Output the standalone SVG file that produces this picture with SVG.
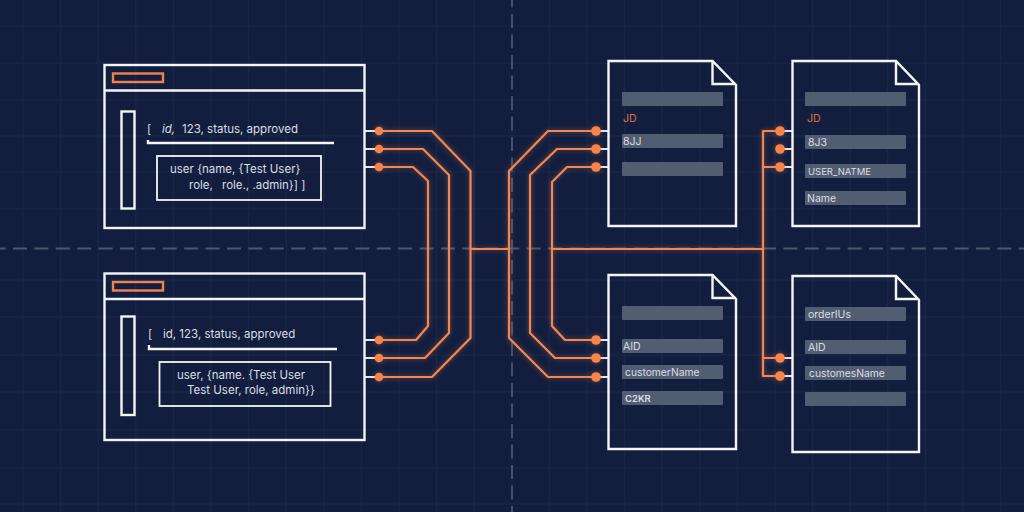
<svg xmlns="http://www.w3.org/2000/svg" width="1024" height="512" viewBox="0 0 1024 512">
<defs>
<style>
.grid{stroke:#1a2646;stroke-width:1.5;fill:none}
.dash{stroke:#4d576d;stroke-width:1.8;fill:none;stroke-dasharray:14 7.4}
.w{fill:none;stroke:#f3f5f9;stroke-width:2.4;stroke-linejoin:miter}
.o{fill:none;stroke:#f5864f;stroke-width:2.2;stroke-linejoin:round}
.hdr{fill:none;stroke:#ee8350;stroke-width:2.4}
.bar{fill:#535d71}
.stub{stroke:#e9e4e2;stroke-width:2.2;fill:none}
.dot{fill:#f98448}
text{font-family:"Inter","Liberation Sans",sans-serif;fill:#dadee7}
.t{font-size:11.500px}
.s{font-size:10.500px}
.c{font-size:10.300px}
.n{font-size:9.500px}
.or{fill:#d9753f;font-size:10.500px}
</style>
<filter id="glow" filterUnits="userSpaceOnUse" x="0" y="0" width="1024" height="512">
<feGaussianBlur stdDeviation="2.500" result="b"/>
<feComponentTransfer in="b" result="soft"><feFuncA type="linear" slope="0.450"/></feComponentTransfer>
<feMerge><feMergeNode in="soft"/><feMergeNode in="SourceGraphic"/></feMerge>
</filter>
</defs>
<rect width="1024" height="512" fill="#131e3e"/>
<g id="background-grid">
<path class="grid" d="M23 0V512M60.600 0V512M98.200 0V512M135.800 0V512M173.400 0V512M211 0V512M248.600 0V512M286.200 0V512M323.800 0V512M361.400 0V512M399 0V512M436.600 0V512M474.200 0V512M549.400 0V512M587 0V512M624.600 0V512M662.200 0V512M699.800 0V512M737.400 0V512M775 0V512M812.600 0V512M850.200 0V512M887.800 0V512M925.400 0V512M963 0V512M1000.600 0V512"/>
<path class="grid" d="M0 26H1024M0 63H1024M0 100H1024M0 136H1024M0 172H1024M0 209H1024M0 280H1024M0 317H1024M0 355H1024M0 392H1024M0 430H1024M0 468H1024M0 504H1024"/>
<path class="dash" stroke-dashoffset="8.400" d="M0 248.500H1024"/>
<path class="dash" style="stroke-dasharray:14 6.500" stroke-dashoffset="6.500" d="M512 0V512"/>
</g>
<g id="connectors">
<path class="stub" d="M365 131H379M365 149H379M365 167H379M365 340H379M365 358H379M365 377H379M596 131H608M596 149H608M596 167H608M596 340H608M596 358H608M596 377H608M780 131H792M780 149H792M780 167H792M780 358H792M780 376H792"/>
<g filter="url(#glow)">
<path class="o" d="M379 131H432L470.500 171V338L432 377H379"/>
<path class="o" d="M379 149H423L449 175V333L425 358H379"/>
<path class="o" d="M379 167H413L428 181V326L416 340H379"/>
<path class="o" d="M470.500 249H509"/>
<path class="o" d="M596 131H548L509 171V338L548 377H596"/>
<path class="o" d="M596 149H557L530 175V333L555 358H596"/>
<path class="o" d="M596 167H567L552 182V326L565 340H596"/>
<path class="o" d="M552 249H763"/>
<path class="o" d="M780 131H763V376H780M763 167H780M763 358H780"/>
<g class="dot">
<circle cx="379" cy="131" r="4.300"/><circle cx="379" cy="149" r="4.300"/><circle cx="379" cy="167" r="4.300"/>
<circle cx="379" cy="340" r="4.300"/><circle cx="379" cy="358" r="4.300"/><circle cx="379" cy="377" r="4.300"/>
<circle cx="596" cy="131" r="4.800"/><circle cx="596" cy="149" r="4.800"/><circle cx="596" cy="167" r="4.800"/>
<circle cx="596" cy="340" r="4.800"/><circle cx="596" cy="358" r="4.800"/><circle cx="596" cy="377" r="4.800"/>
<circle cx="780" cy="131" r="4.800"/><circle cx="780" cy="149" r="4.800"/><circle cx="780" cy="167" r="4.800"/>
<circle cx="780" cy="358" r="4.800"/><circle cx="780" cy="376" r="4.800"/>
</g>
</g>
</g>
<g id="window-1">
<rect class="w" x="104.500" y="65" width="260" height="163"/>
<path class="w" d="M104.500 90.500H364.500"/>
<rect class="hdr" x="113" y="73.500" width="50" height="8.500"/>
<rect class="w" x="121.500" y="111.500" width="13" height="97"/>
<text class="t" y="133"><tspan x="147">[</tspan><tspan x="162" font-style="italic">id,</tspan><tspan x="182">123, status, approved</tspan></text>
<path class="w" d="M148 140V143H334"/>
<rect class="w" x="157" y="156" width="164" height="44" style="stroke-width:1.800"/>
<text class="t" x="170" y="173">user {name, {Test User}</text>
<text class="t" x="189" y="188.500">role,<tspan x="222">role., .admin}] ]</tspan></text>
</g>
<g id="window-2">
<rect class="w" x="104.500" y="273.500" width="260" height="166.500"/>
<path class="w" d="M104.500 299H364.500"/>
<rect class="hdr" x="113" y="282" width="50" height="8.500"/>
<rect class="w" x="121.500" y="316.500" width="13" height="98.500"/>
<text class="t" y="338"><tspan x="148">[</tspan><tspan x="163">id, 123, status, approved</tspan></text>
<path class="w" d="M149 345V349H337"/>
<rect class="w" x="159.500" y="362" width="171" height="44" style="stroke-width:1.800"/>
<text class="t" x="177" y="379">user, {name. {Test User</text>
<text class="t" x="187" y="394">Test User, role, admin}}</text>
</g>
<g id="doc-1">
<path class="w" d="M608.500 61H712.500L736 85V226H608.500ZM712.500 61V84H736"/>
<rect class="bar" x="622" y="92" width="101" height="14" rx="1"/>
<rect class="bar" x="622" y="134" width="101" height="14" rx="1"/>
<rect class="bar" x="622" y="162" width="101" height="14" rx="1"/>
<text class="or" x="623" y="122">JD</text>
<text class="s" x="623" y="144.500">8JJ</text>
</g>
<g id="doc-2">
<path class="w" d="M792.500 61H896L919 85V226H792.500ZM896 61V84H919"/>
<rect class="bar" x="805" y="92" width="101" height="14" rx="1"/>
<rect class="bar" x="805" y="135" width="101" height="14" rx="1"/>
<rect class="bar" x="805" y="164" width="101" height="14" rx="1"/>
<rect class="bar" x="805" y="191" width="101" height="14" rx="1"/>
<text class="or" x="807" y="122">JD</text>
<text class="s" x="808" y="146">8J3</text>
<text class="n" x="808" y="175">USER_NATME</text>
<text class="s" x="807" y="202">Name</text>
</g>
<g id="doc-3">
<path class="w" d="M608.500 275H712.500L736 299V449H608.500ZM712.500 275V298H736"/>
<rect class="bar" x="622" y="306" width="101" height="14" rx="1"/>
<rect class="bar" x="622" y="339" width="101" height="14" rx="1"/>
<rect class="bar" x="622" y="365" width="101" height="14" rx="1"/>
<rect class="bar" x="622" y="391" width="101" height="14" rx="1"/>
<text class="s" x="623" y="349.500">AID</text>
<text class="c" x="625" y="375.500">customerName</text>
<text class="n" x="625" y="401.500" font-weight="600">C2KR</text>
</g>
<g id="doc-4">
<path class="w" d="M792.500 276H896L919 300V452H792.500ZM896 276V299H919"/>
<rect class="bar" x="805" y="307" width="101" height="14" rx="1"/>
<rect class="bar" x="805" y="340" width="101" height="14" rx="1"/>
<rect class="bar" x="805" y="366" width="101" height="14" rx="1"/>
<rect class="bar" x="805" y="392" width="101" height="14" rx="1"/>
<text class="s" x="808" y="318">orderIUs</text>
<text class="s" x="808" y="350.500">AID</text>
<text class="c" x="809" y="376.500">customesName</text>
</g>
</svg>
